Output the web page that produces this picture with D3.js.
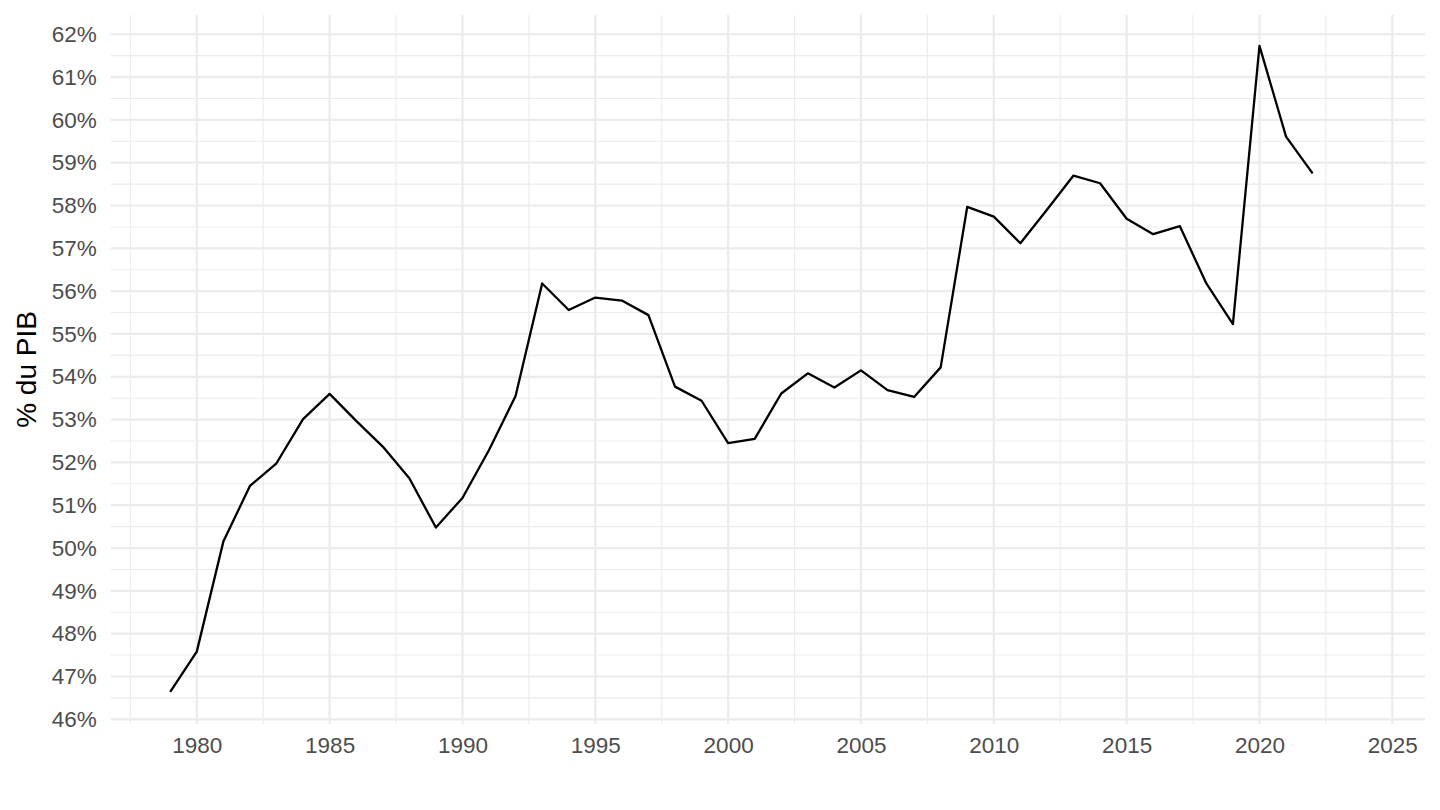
<!DOCTYPE html>
<html><head><meta charset="utf-8">
<script src="https://cdn.jsdelivr.net/npm/d3@7"></script>
<style>
html,body{margin:0;padding:0;background:#fff;}
svg{display:block;font-family:"Liberation Sans",Arial,Helvetica,sans-serif;}
</style></head>
<body>
<svg id="chart" width="1440" height="810"></svg>
<script>
const years = [1979,1980,1981,1982,1983,1984,1985,1986,1987,1988,1989,1990,1991,1992,1993,1994,1995,1996,1997,1998,1999,2000,2001,2002,2003,2004,2005,2006,2007,2008,2009,2010,2011,2012,2013,2014,2015,2016,2017,2018,2019,2020,2021,2022];
const values = [46.64,47.58,50.15,51.45,51.98,53.01,53.60,52.97,52.37,51.63,50.48,51.17,52.29,53.55,56.18,55.56,55.85,55.78,55.44,53.77,53.44,52.45,52.55,53.61,54.08,53.75,54.15,53.69,53.53,54.22,57.97,57.74,57.12,57.90,58.70,58.52,57.69,57.33,57.52,56.18,55.23,61.73,59.61,58.75];
const xTicks = [1980,1985,1990,1995,2000,2005,2010,2015,2020,2025];
const yTicks = [46,47,48,49,50,51,52,53,54,55,56,57,58,59,60,61,62];
const yTitle = "% du PIB";

(function () {
const svg = d3.select("#chart");
const pL = 110.7, pR = 1425, pT = 15, pB = 724;
const x = d3.scaleLinear().domain([1976.76, 2026.23]).range([pL, pR]);
const y = d3.scaleLinear().domain([45.89, 62.45]).range([pB, pT]);

const grid = svg.append("g");
const xMinor = xTicks.map(t => t - 2.5).concat([2027.5]).filter(t => t >= 1976.76 && t <= 2026.23);
const yMinor = yTicks.slice(0, -1).map(t => t + 0.5);
grid.selectAll(".ymin").data(yMinor).join("line")
  .attr("x1", pL).attr("x2", pR).attr("y1", d => y(d)).attr("y2", d => y(d))
  .attr("stroke", "#ebebeb").attr("stroke-width", 1.1);
grid.selectAll(".xmin").data(xMinor).join("line")
  .attr("y1", pT).attr("y2", pB).attr("x1", d => x(d)).attr("x2", d => x(d))
  .attr("stroke", "#ebebeb").attr("stroke-width", 1.1);
grid.selectAll(".ymaj").data(yTicks).join("line")
  .attr("x1", pL).attr("x2", pR).attr("y1", d => y(d)).attr("y2", d => y(d))
  .attr("stroke", "#ebebeb").attr("stroke-width", 2.2);
grid.selectAll(".xmaj").data(xTicks).join("line")
  .attr("y1", pT).attr("y2", pB).attr("x1", d => x(d)).attr("x2", d => x(d))
  .attr("stroke", "#ebebeb").attr("stroke-width", 2.2);

const yAxis = svg.append("g").attr("transform", `translate(${pL},0)`)
  .call(d3.axisLeft(y).tickValues(yTicks).tickFormat(d => d + "%").tickSize(0).tickPadding(14));
const xAxis = svg.append("g").attr("transform", `translate(0,${pB})`)
  .call(d3.axisBottom(x).tickValues(xTicks).tickFormat(d3.format("d")).tickSize(0).tickPadding(13));
[yAxis, xAxis].forEach(a => {
  a.select(".domain").remove();
  a.selectAll("text").attr("fill", "#4d4d4d").style("font-size", "22.5px")
    .style("font-family", '"Liberation Sans",Arial,sans-serif');
});

const line = d3.line().x((d, i) => x(years[i])).y(d => y(d));
svg.append("path").datum(values).attr("d", line)
  .attr("fill", "none").attr("stroke", "#000").attr("stroke-width", 2.3)
  .attr("stroke-linejoin", "round");

svg.append("text").attr("transform", `translate(36,${(pT + pB) / 2}) rotate(-90)`)
  .attr("text-anchor", "middle").attr("fill", "#000")
  .style("font-size", "28px").text(yTitle);
})();
</script>
</body></html>
